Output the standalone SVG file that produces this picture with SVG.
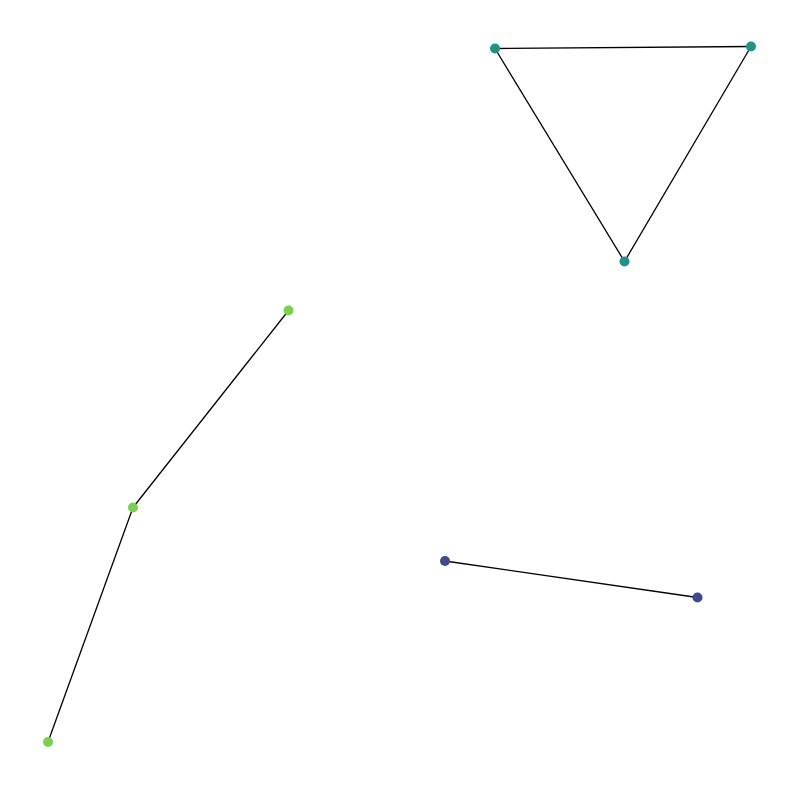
<svg xmlns="http://www.w3.org/2000/svg" width="800" height="800" viewBox="0 0 800 800">
<style>
.e{stroke:#000;stroke-width:1.3;fill:none}
.a{fill:#21918c}
.b{fill:#3e4a89}
.c{fill:#7ad151}
</style>
<rect width="800" height="800" fill="#fff"/>
<g id="edges">
<line class="e" x1="495" y1="48.5" x2="751" y2="46.5"/>
<line class="e" x1="495" y1="48.5" x2="624.5" y2="261.5"/>
<line class="e" x1="751" y1="46.5" x2="624.5" y2="261.5"/>
<line class="e" x1="288.5" y1="310.5" x2="133" y2="507.5"/>
<line class="e" x1="133" y1="507.5" x2="48" y2="742"/>
<line class="e" x1="445" y1="561" x2="697.5" y2="597.5"/>
</g>
<g id="n1"><circle class="a" cx="495" cy="48.5" r="5"/></g>
<g id="n2"><circle class="a" cx="751" cy="46.5" r="5"/></g>
<g id="n3"><circle class="a" cx="624.5" cy="261.5" r="5"/></g>
<g id="n4"><circle class="c" cx="288.5" cy="310.5" r="5"/></g>
<g id="n5"><circle class="c" cx="133" cy="507.5" r="5"/></g>
<g id="n6"><circle class="c" cx="48" cy="742" r="5"/></g>
<g id="n7"><circle class="b" cx="445" cy="561" r="5"/></g>
<g id="n8"><circle class="b" cx="697.5" cy="597.5" r="5"/></g>
</svg>
